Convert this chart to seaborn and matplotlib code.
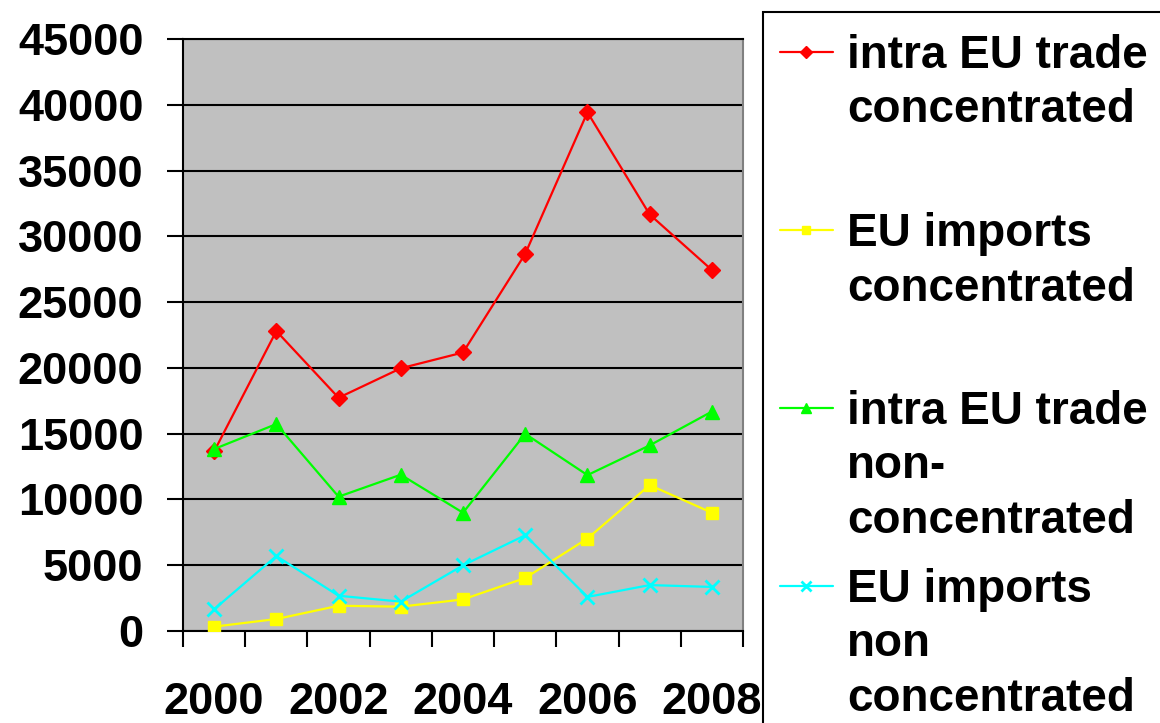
import numpy as np
import pandas as pd
import matplotlib
matplotlib.use("Agg")
import matplotlib.pyplot as plt
import seaborn as sns
from matplotlib.lines import Line2D
from matplotlib.patches import Rectangle

# =========================
# Data
# =========================
years = [2000, 2001, 2002, 2003, 2004, 2005, 2006, 2007, 2008]
intra_conc = [13650, 22800, 17730, 19970, 21170, 28670, 39430, 31660, 27440]
imports_conc = [330, 910, 1920, 1850, 2400, 4030, 7030, 11090, 8990]
intra_nonconc = [13830, 15730, 10210, 11880, 8990, 14990, 11850, 14110, 16680]
imports_nonconc = [1650, 5700, 2680, 2230, 4990, 7280, 2590, 3490, 3350]

labels = [
    "intra EU trade\nconcentrated",
    "EU imports\nconcentrated",
    "intra EU trade\nnon-\nconcentrated",
    "EU imports\nnon\nconcentrated",
]
series = [intra_conc, imports_conc, intra_nonconc, imports_nonconc]
colors = ["#FF0000", "#FFFF00", "#00FF00", "#00FFFF"]
markers = ["D", "s", "^", "x"]
msizes = [8, 8.5, 10, 10]

yticks = list(range(0, 45001, 5000))
xtick_years = [2000, 2002, 2004, 2006, 2008]

# =========================
# Style
# =========================
sns.set_style("ticks")
plt.rcParams["font.family"] = ["Liberation Sans", "DejaVu Sans"]
plt.rcParams["font.weight"] = "bold"
plt.rcParams["text.color"] = "black"
plt.rcParams["xtick.labelcolor"] = "black"
plt.rcParams["ytick.labelcolor"] = "black"

fig = plt.figure(figsize=(11.6, 7.23), dpi=100)
W, H = 1160, 723
ax = fig.add_axes([183 / W, 1 - 631 / H, (743 - 183) / W, (631 - 39) / H])
ax.set_facecolor("#C0C0C0")

# =========================
# Lines
# =========================
for vals, lab, c, m, ms in zip(series, labels, colors, markers, msizes):
    df = pd.DataFrame({"year": years, "value": vals})
    sns.lineplot(data=df, x="year", y="value", ax=ax, color=c, marker=m,
                 markersize=ms, markeredgecolor=c, markeredgewidth=2 if m == "x" else 1,
                 linewidth=1.6, legend=False, zorder=3)

# =========================
# Axes
# =========================
ax.set_xlim(1999.5, 2008.5)
ax.set_ylim(0, 45000)
ax.set_yticks(yticks)
ax.set_yticklabels([str(v) for v in yticks], fontsize=32.5, fontweight="bold", color="black")
ax.set_xticks(xtick_years)
ax.set_xticklabels([str(v) for v in xtick_years], fontsize=32.5, fontweight="bold", color="black")
ax.set_xticks(np.arange(1999.5, 2009, 1.0), minor=True)
ax.tick_params(axis="x", which="major", length=0, pad=37)
ax.tick_params(axis="x", which="minor", length=11.5, width=1.5, color="black", direction="out")
ax.tick_params(axis="y", length=11.5, width=1.5, color="black", direction="out", pad=17)
ax.set_xlabel("")
ax.set_ylabel("")

ax.grid(axis="y", color="black", linewidth=1.5, zorder=1)
ax.grid(axis="x", visible=False)
ax.set_axisbelow(True)
for side in ["left", "bottom", "top"]:
    ax.spines[side].set_color("black")
    ax.spines[side].set_linewidth(1.5)
ax.spines["right"].set_color("#808080")
ax.spines["right"].set_linewidth(1.5)

# =========================
# Legend (Excel style, drawn by hand)
# =========================
fig.add_artist(Rectangle((763 / W, -0.02), 0.4, 1 - 12 / H + 0.02,
                         transform=fig.transFigure, facecolor="white",
                         edgecolor="black", linewidth=1.5, zorder=0))
handle_y = [52, 230, 408, 586]
for hy, lab, c, m, ms in zip(handle_y, labels, colors, markers, msizes):
    yf = 1 - hy / H
    fig.add_artist(Line2D([780 / W, 833 / W], [yf, yf], transform=fig.transFigure,
                          color=c, linewidth=1.6))
    fig.add_artist(Line2D([806 / W], [yf], transform=fig.transFigure, color=c,
                          marker=m, markersize=ms * 0.75, markeredgecolor=c,
                          markeredgewidth=2 if m == "x" else 1))
    for i, line in enumerate(lab.split("\n")):
        fig.text(847 / W, 1 - (hy + 16 + i * 54.5) / H, line, fontsize=33,
                 fontweight="bold", color="black", ha="left", va="baseline")

fig.savefig("out.png", dpi=100)
